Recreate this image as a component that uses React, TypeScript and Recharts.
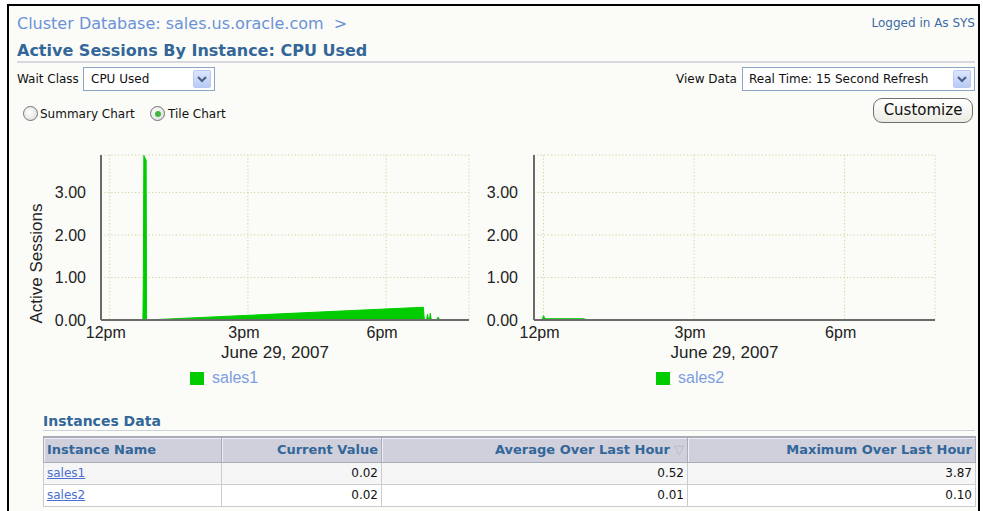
import React from "react";
import { AreaChart, Area, XAxis, YAxis, CartesianGrid } from "recharts";

// time axis: hours after 12pm on June 29, 2007
const TIME_DOMAIN = [-0.19, 7.8];
const TIME_TICKS = [0, 3, 6];
const TIME_TICK_LABELS = ["12pm", "3pm", "6pm"];
const SESSION_TICKS = [0, 1, 2, 3];
const SESSION_MAX = 3.88;

const sales1Hours = [-0.19, 0.72, 0.73, 0.74, 0.79, 0.8, 6.81, 6.83, 6.88, 6.9, 6.92, 6.94, 6.96, 6.98, 7.1, 7.13, 7.16, 7.3, 7.5, 7.8];
const sales1Sessions = [0, 0, 1.05, 3.87, 3.75, 0, 0.3, 0, 0.01, 0.14, 0.01, 0.01, 0.16, 0.01, 0.01, 0.07, 0.01, 0.01, 0.01, 0.01];

const sales2Hours = [-0.19, -0.03, 0, 0.03, 0.1, 0.8, 0.85, 1.5, 7.8];
const sales2Sessions = [0, 0, 0.1, 0.03, 0.03, 0.03, 0.01, 0.01, 0.01];

const instanceNames = ["sales1", "sales2"];
const currentValues = [0.02, 0.02];
const avgLastHour = [0.52, 0.01];
const maxLastHour = [3.87, 0.1];

const GREEN = "#00cc00";
const DARK_BLUE = "#336699";
const UI_FONT = "'DejaVu Sans', Verdana, sans-serif";
const CHART_FONT = "'Liberation Sans', Arial, sans-serif";

const toRows = (hours: number[], vals: number[]) => hours.map((t, i) => ({ t, v: vals[i] }));

function Chevron({ left, top }: { left: number; top: number }) {
  return (
    <div
      style={{
        position: "absolute",
        left,
        top,
        width: 18,
        height: 18,
        background: "linear-gradient(#dce7fd, #b7cbf6)",
        border: "1px solid #b9c9ef",
        boxSizing: "border-box",
        borderRadius: 2,
      }}
    >
      <svg width="16" height="16" style={{ position: "absolute", left: 0, top: 0 }}>
        <polyline points="4,6 8,10 12,6" fill="none" stroke="#4d6185" strokeWidth="2.2" />
      </svg>
    </div>
  );
}

function Radio({ left, top, checked }: { left: number; top: number; checked?: boolean }) {
  return (
    <div
      style={{
        position: "absolute",
        left,
        top,
        width: 15,
        height: 15,
        borderRadius: "50%",
        border: "1px solid #6f747b",
        boxSizing: "border-box",
        background: "radial-gradient(circle at 40% 40%, #ffffff, #d8d8d2)",
      }}
    >
      {checked && (
        <div
          style={{
            position: "absolute",
            left: 3.5,
            top: 3.5,
            width: 6,
            height: 6,
            borderRadius: "50%",
            background: "#3fb83f",
          }}
        />
      )}
    </div>
  );
}

function TileChart({
  left,
  width,
  yAxisWidth,
  rightMargin,
  data,
  name,
  legendLeft,
  yTickGap,
  withTitle,
}: {
  left: number;
  width: number;
  yAxisWidth: number;
  rightMargin: number;
  data: { t: number; v: number }[];
  name: string;
  legendLeft: number;
  yTickGap: number;
  withTitle?: boolean;
}) {
  const plotLeft = yAxisWidth;
  const plotWidth = width - yAxisWidth - rightMargin;
  return (
    <>
      <div style={{ position: "absolute", left, top: 140 }}>
        <AreaChart
          width={width}
          height={230}
          data={data}
          margin={{ top: 15, right: rightMargin, bottom: 0, left: 0 }}
        >
          <CartesianGrid stroke="#d3cf9c" strokeDasharray="1.2 2.2" />
          <XAxis
            dataKey="t"
            type="number"
            domain={TIME_DOMAIN}
            ticks={TIME_TICKS}
            interval={0}
            tickFormatter={(h: number) => TIME_TICK_LABELS[TIME_TICKS.indexOf(h)]}
            height={50}
            tickLine={false}
            tickSize={0}
            tickMargin={7}
            axisLine={{ stroke: "#6b6b6b", strokeWidth: 2 }}
            tick={{ fill: "#222", fontSize: 16, fontFamily: CHART_FONT, dx: -4 }}
            allowDataOverflow
            label={() => (
              <text
                x={plotLeft + plotWidth / 2 - 10}
                y={15 + 165 + 38}
                textAnchor="middle"
                fill="#222"
                fontSize={17}
                fontFamily={CHART_FONT}
              >
                June 29, 2007
              </text>
            )}
          />
          <YAxis
            type="number"
            domain={[0, SESSION_MAX]}
            ticks={SESSION_TICKS}
            interval={0}
            width={yAxisWidth}
            tickLine={false}
            tickSize={0}
            tickMargin={yTickGap}
            tickFormatter={(v: number) => v.toFixed(2)}
            axisLine={{ stroke: "#6b6b6b", strokeWidth: 2 }}
            tick={{ fill: "#222", fontSize: 16, fontFamily: CHART_FONT }}
            allowDataOverflow
            label={
              withTitle
                ? () => (
                    <text
                      x={36}
                      y={123.5}
                      transform="rotate(-90 36 123.5)"
                      textAnchor="middle"
                      dominantBaseline="central"
                      fill="#222"
                      fontSize={17}
                      fontFamily={CHART_FONT}
                    >
                      Active Sessions
                    </text>
                  )
                : undefined
            }
          />
          <Area
            type="linear"
            dataKey="v"
            name={name}
            stroke={GREEN}
            strokeWidth={1}
            fill={GREEN}
            fillOpacity={1}
            dot={false}
            activeDot={false}
            isAnimationActive={false}
          />
        </AreaChart>
      </div>
      <div style={{ position: "absolute", left: legendLeft, top: 372, width: 14, height: 13, background: GREEN }} />
      <div
        style={{
          position: "absolute",
          left: legendLeft + 22,
          top: 368,
          fontFamily: CHART_FONT,
          fontSize: 16,
          lineHeight: "20px",
          color: "#7d9de0",
        }}
      >
        {name}
      </div>
    </>
  );
}

const cellBase: React.CSSProperties = {
  boxSizing: "border-box",
  padding: "0 3px",
  whiteSpace: "nowrap",
};

export default function App() {
  const colWidths = [178, 160, 306, 288];
  const headers = ["Instance Name", "Current Value", "Average Over Last Hour", "Maximum Over Last Hour"];
  return (
    <div
      style={{
        position: "fixed",
        left: 0,
        top: 0,
        width: 983,
        height: 511,
        overflow: "hidden",
        background: "#ffffff",
        fontFamily: UI_FONT,
      }}
    >
      <div
        style={{
          position: "absolute",
          left: 7,
          top: 4,
          width: 973,
          height: 520,
          boxSizing: "border-box",
          borderTop: "2px solid #000",
          borderLeft: "2px solid #000",
          borderRight: "2px solid #000",
          background: "#fbfcf8",
        }}
      />

      {/* header */}
      <div style={{ position: "absolute", left: 17, top: 13, fontSize: 16, lineHeight: "22px", color: "#6b92d6" }}>
        Cluster Database: sales.us.oracle.com&nbsp;&nbsp;&gt;
      </div>
      <div style={{ position: "absolute", right: 8, top: 14, fontSize: 12, lineHeight: "18px", color: "#3c6aa6" }}>
        Logged in As SYS
      </div>
      <div
        style={{
          position: "absolute",
          left: 17,
          top: 40,
          fontSize: 16,
          fontWeight: "bold",
          lineHeight: "22px",
          color: DARK_BLUE,
        }}
      >
        Active Sessions By Instance: CPU Used
      </div>
      <div style={{ position: "absolute", left: 17, top: 61, width: 958, height: 2, background: "#d5d8e0" }} />

      {/* controls */}
      <div style={{ position: "absolute", left: 17, top: 70, fontSize: 12, lineHeight: "18px", color: "#111" }}>
        Wait Class
      </div>
      <div
        style={{
          position: "absolute",
          left: 83,
          top: 67,
          width: 132,
          height: 24,
          boxSizing: "border-box",
          border: "1px solid #8aa5c8",
          background: "#fff",
        }}
      >
        <div style={{ position: "absolute", left: 7, top: 2, fontSize: 12, lineHeight: "18px", color: "#111" }}>CPU Used</div>
      </div>
      <Chevron left={193} top={70} />

      <div style={{ position: "absolute", left: 676, top: 70, fontSize: 12, lineHeight: "18px", color: "#111" }}>
        View Data
      </div>
      <div
        style={{
          position: "absolute",
          left: 742,
          top: 67,
          width: 233,
          height: 24,
          boxSizing: "border-box",
          border: "1px solid #8aa5c8",
          background: "#fff",
        }}
      >
        <div style={{ position: "absolute", left: 6, top: 2, fontSize: 12, lineHeight: "18px", color: "#111" }}>
          Real Time: 15 Second Refresh
        </div>
      </div>
      <Chevron left={953} top={70} />

      <Radio left={23} top={106} />
      <div style={{ position: "absolute", left: 40, top: 105, fontSize: 12, lineHeight: "18px", color: "#111" }}>
        Summary Chart
      </div>
      <Radio left={150} top={106} checked />
      <div style={{ position: "absolute", left: 168, top: 105, fontSize: 12, lineHeight: "18px", color: "#111" }}>
        Tile Chart
      </div>

      <div
        style={{
          position: "absolute",
          left: 873,
          top: 98,
          width: 100,
          height: 25,
          boxSizing: "border-box",
          border: "1px solid #6f6f6f",
          borderRadius: 9,
          background: "linear-gradient(#ffffff, #ecece4)",
          fontSize: 15,
          lineHeight: "23px",
          textAlign: "center",
          color: "#111",
        }}
      >
        Customize
      </div>

      {/* charts */}
      <TileChart
        left={0}
        width={480}
        yAxisWidth={101}
        rightMargin={11}
        data={toRows(sales1Hours, sales1Sessions)}
        name="sales1"
        legendLeft={190}
        yTickGap={15}
        withTitle
      />
      <TileChart
        left={440}
        width={500}
        yAxisWidth={94}
        rightMargin={5}
        data={toRows(sales2Hours, sales2Sessions)}
        name="sales2"
        legendLeft={656}
        yTickGap={16}
      />

      {/* instances table */}
      <div
        style={{
          position: "absolute",
          left: 43,
          top: 411,
          fontSize: 14,
          fontWeight: "bold",
          lineHeight: "20px",
          color: DARK_BLUE,
        }}
      >
        Instances Data
      </div>
      <div style={{ position: "absolute", left: 43, top: 430, width: 932, height: 1, background: "#cdd1dc" }} />
      <table
        style={{
          position: "absolute",
          left: 43,
          top: 436,
          width: 932,
          borderCollapse: "collapse",
          tableLayout: "fixed",
          fontFamily: UI_FONT,
        }}
      >
        <colgroup>
          {colWidths.map((w, i) => (
            <col key={i} style={{ width: w }} />
          ))}
        </colgroup>
        <thead>
          <tr style={{ height: 25 }}>
            {headers.map((h, i) => (
              <th
                key={h}
                style={{
                  ...cellBase,
                  background: "#cfd0dc",
                  border: "1px solid #a9abb8",
                  borderTop: "2px solid #a9abb8",
                  boxShadow: "inset 1px 1px 0 #eeeef4",
                  color: DARK_BLUE,
                  fontSize: 13,
                  fontWeight: "bold",
                  textAlign: i === 0 ? "left" : "right",
                }}
              >
                {h}
                {i === 2 && <span style={{ color: "#b5b8c4", fontWeight: "normal", marginLeft: 4 }}>▽</span>}
              </th>
            ))}
          </tr>
        </thead>
        <tbody>
          {instanceNames.map((n, r) => (
            <tr key={n} style={{ height: 22, background: r === 0 ? "#f6f6f6" : "#ffffff" }}>
              <td style={{ ...cellBase, border: "1px solid #cccccc", fontSize: 12 }}>
                <span style={{ color: "#4a6fcf", textDecoration: "underline" }}>{n}</span>
              </td>
              {[currentValues[r], avgLastHour[r], maxLastHour[r]].map((v, c) => (
                <td
                  key={c}
                  style={{ ...cellBase, border: "1px solid #cccccc", fontSize: 12, textAlign: "right", color: "#111" }}
                >
                  {v.toFixed(2)}
                </td>
              ))}
            </tr>
          ))}
        </tbody>
      </table>
    </div>
  );
}
